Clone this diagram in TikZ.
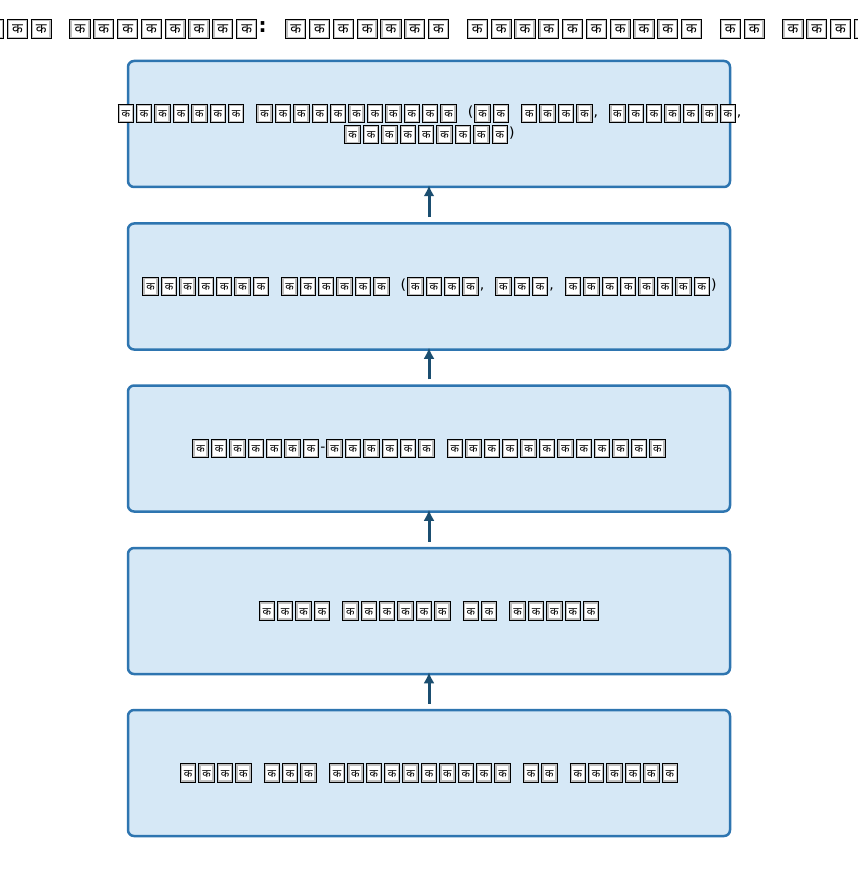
\documentclass[tikz,border=0pt]{standalone}
\usepackage{fontspec}
\setmainfont{DejaVu Sans}
\newfontfamily\deva[Script=Devanagari]{Noto Sans}
\usetikzlibrary{arrows.meta}
\definecolor{boxfill}{RGB}{214,232,246}
\definecolor{boxline}{RGB}{46,117,176}
\definecolor{arrcol}{RGB}{27,78,112}
\newlength\tfw \newlength\tfh \newlength\tfg \newlength\tfd
\newcommand\tfk{10}
\newcommand\tf{\kern\tfg\raisebox{-\tfd}{\setlength\fboxsep{0pt}\setlength\fboxrule{1pt}\fbox{\setlength\fboxrule{1.4pt}\fcolorbox{gray!50}{white}{\makebox[\tfw]{\rule{0pt}{\tfh}\raisebox{0.2\tfh}{\deva\fontsize{\tfk}{\tfk}\selectfont क}}}}}\kern\tfg}
\ExplSyntaxOn
\NewDocumentCommand\rep{m}{\prg_replicate:nn{#1}{\tf}}
\ExplSyntaxOff
\newcommand\bodyset{\setlength\tfw{11.6pt}\setlength\tfh{14.5pt}\setlength\tfg{1.0pt}\setlength\tfd{4pt}\renewcommand\tfk{11}\spaceskip=10pt plus 1pt\relax}
\newcommand\titleset{\setlength\tfw{16.4pt}\setlength\tfh{16pt}\setlength\tfg{1.3pt}\setlength\tfd{4.5pt}\renewcommand\tfk{14}\spaceskip=15pt plus 1pt\relax}
\tikzset{
  layerbox/.style={draw=boxline, fill=boxfill, line width=2.5pt, rounded corners=6pt,
    minimum width=602pt, minimum height=126pt, inner sep=0pt},
  lbl/.style={align=center, inner sep=0pt, font=\fontsize{14}{21}\selectfont\bodyset},
  ttl/.style={inner sep=0pt, font=\bfseries\fontsize{20}{24}\selectfont\titleset},
  arr/.style={draw=arrcol, line width=3pt, -{Latex[length=11pt,width=11pt]}}
}
\begin{document}
\begin{tikzpicture}[x=1pt,y=-1pt]
\path[use as bounding box] (0,0) rectangle (858,877);
\clip (0,0) rectangle (858,877);
\fill[white] (0,0) rectangle (858,877);
\node[ttl] (title) at (429,29) {\rep{3} \rep{8}: \rep{7} \rep{10} \rep{2} \rep{4}};
\node[layerbox] (b1) at (429,124) {};
\node[layerbox] (b2) at (429,286.5) {};
\node[layerbox] (b3) at (429,448.5) {};
\node[layerbox] (b4) at (429,611) {};
\node[layerbox] (b5) at (429,773) {};
\node[lbl] (t1) at (429,124) {\rep{7} \rep{11} (\rep{2} \rep{4}, \rep{7},\\\rep{9})};
\node[lbl] (t2) at (429,286.5) {\rep{7} \rep{6} (\rep{4}, \rep{3}, \rep{8})};
\node[lbl] (t3) at (429,448.5) {\rep{7}-\rep{6} \rep{12}};
\node[lbl] (t4) at (429,611) {\rep{4} \rep{6} \rep{2} \rep{5}};
\node[lbl] (t5) at (429,773) {\rep{4} \rep{3} \rep{10} \rep{2} \rep{6}};
\draw[arr] ([yshift=5pt]b5.north) -- ([yshift=3pt]b4.south);
\draw[arr] ([yshift=5pt]b4.north) -- ([yshift=3pt]b3.south);
\draw[arr] ([yshift=5pt]b3.north) -- ([yshift=3pt]b2.south);
\draw[arr] ([yshift=5pt]b2.north) -- ([yshift=3pt]b1.south);
\end{tikzpicture}
\end{document}
